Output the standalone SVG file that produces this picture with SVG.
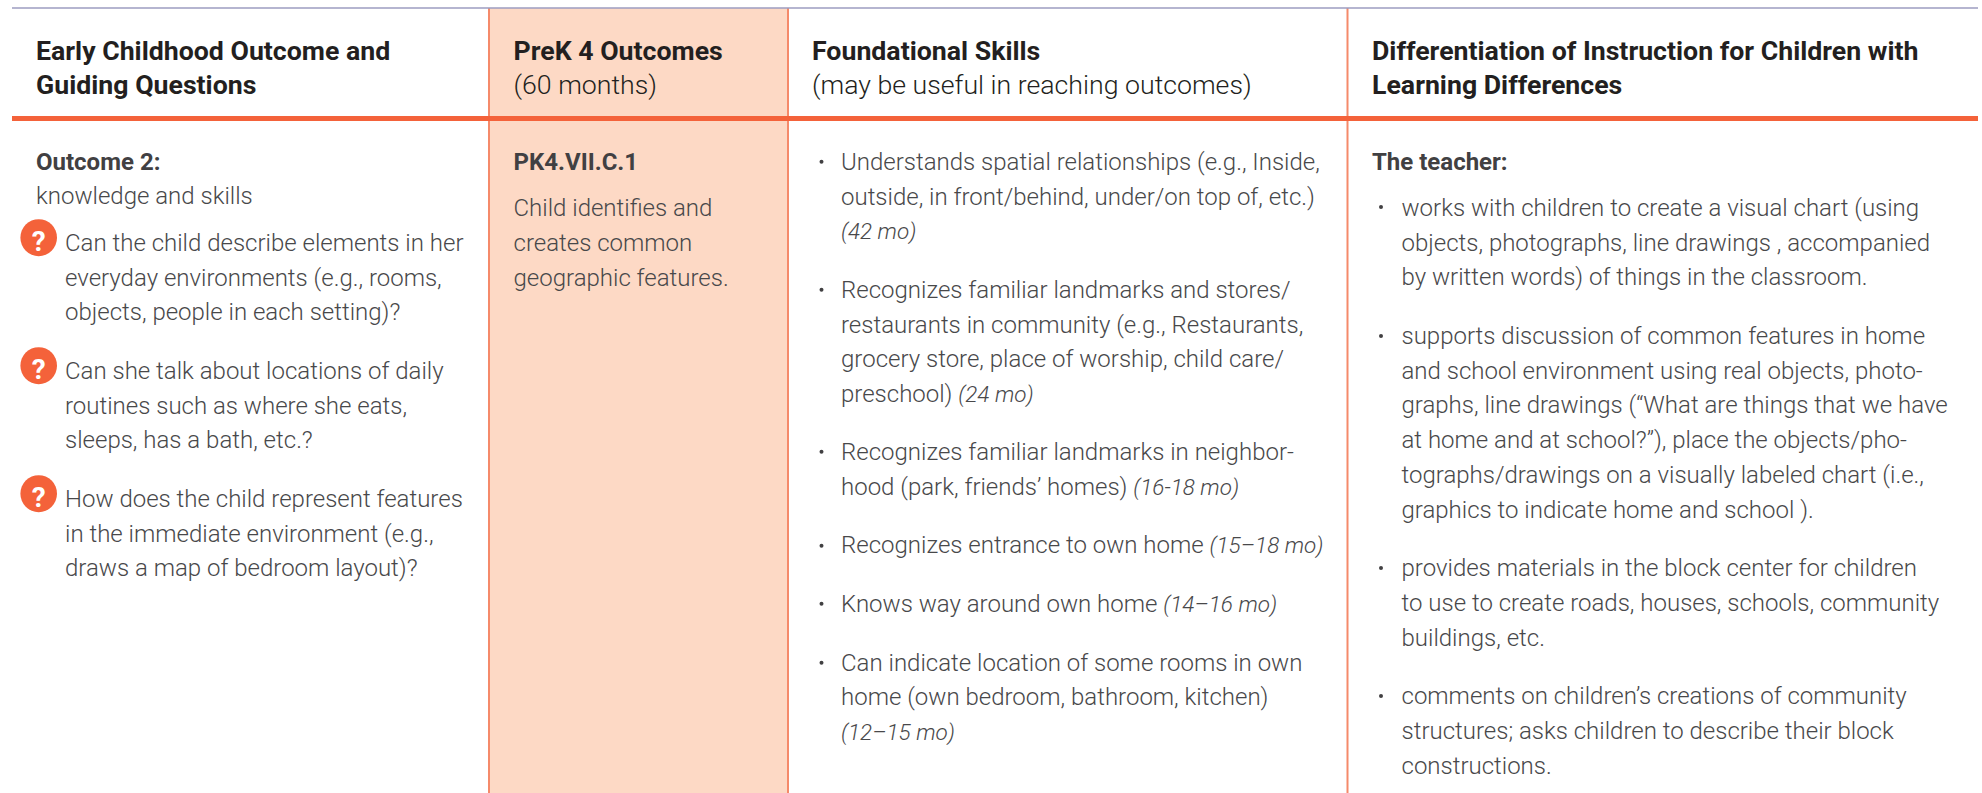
<svg xmlns="http://www.w3.org/2000/svg" width="1982" height="793" viewBox="0 0 1982 793">
<style>
text{font-family:Roboto,"Liberation Sans",sans-serif;font-size:24px;font-weight:300;fill:#48484a}
.h{font-size:26.700px;font-weight:700;fill:#231f20}
.s{font-size:26.700px;font-weight:300;fill:#231f20}
.b{font-size:24px;font-weight:700;fill:#414042}
.i{font-style:italic;font-size:22.500px}
.v{stroke:#f58a6a;stroke-width:2;fill:none}
.q{fill:#f4623a}
.qt{font-size:28px;font-weight:700;fill:#fff;text-anchor:middle}
.d{fill:#414042}
</style>
<rect width="1982" height="793" fill="#fff"/>
<g id="table-lines">
<rect x="489" y="8" width="299" height="785" fill="#fdd9c5"/>
<path class="v" d="M489 8V793M788 8V793M1347.500 8V793"/>
<path d="M12 8H1978" stroke="#9c9cc0" stroke-width="1.500" fill="none"/>
<path d="M12 118.500H1978" stroke="#f4623a" stroke-width="5" fill="none"/>
</g>
<g id="col-outcome">
<text class="h" x="36" y="60">Early Childhood Outcome and</text>
<text class="h" x="36" y="94">Guiding Questions</text>
<text class="b" x="36" y="170">Outcome 2:</text>
<text x="36" y="204">knowledge and skills</text>
<g id="q1"><ellipse class="q" cx="38.700" cy="237.700" rx="18.300" ry="18.500"/><text class="qt" x="38.700" y="250.500">?</text></g>
<text x="65" y="251">Can the child describe elements in her</text>
<text x="65" y="286">everyday environments (e.g., rooms,</text>
<text x="65" y="320">objects, people in each setting)?</text>
<g id="q2"><ellipse class="q" cx="38.700" cy="365.700" rx="18.300" ry="18.500"/><text class="qt" x="38.700" y="378.500">?</text></g>
<text x="65" y="379">Can she talk about locations of daily</text>
<text x="65" y="414">routines such as where she eats,</text>
<text x="65" y="448">sleeps, has a bath, etc.?</text>
<g id="q3"><ellipse class="q" cx="38.700" cy="493.700" rx="18.300" ry="18.500"/><text class="qt" x="38.700" y="506.500">?</text></g>
<text x="65" y="507">How does the child represent features</text>
<text x="65" y="542">in the immediate environment (e.g.,</text>
<text x="65" y="576">draws a map of bedroom layout)?</text>
</g>
<g id="col-prek">
<text class="h" x="513.500" y="60">PreK 4 Outcomes</text>
<text class="s" x="513.500" y="94">(60 months)</text>
<text class="b" x="513.500" y="170">PK4.VII.C.1</text>
<text x="513.500" y="215.500">Child identifies and</text>
<text x="513.500" y="250.500">creates common</text>
<text x="513.500" y="285.500">geographic features.</text>
</g>
<g id="col-foundational">
<text class="h" x="812" y="60">Foundational Skills</text>
<text class="s" x="812" y="94">(may be useful in reaching outcomes)</text>
<circle class="d" cx="821.500" cy="161.700" r="2"/>
<text x="841" y="170">Understands spatial relationships (e.g., Inside,</text>
<text x="841" y="204.500">outside, in front/behind, under/on top of, etc.)</text>
<text class="i" x="841" y="239">(42 mo)</text>
<circle class="d" cx="821.500" cy="289.700" r="2"/>
<text x="841" y="298">Recognizes familiar landmarks and stores/</text>
<text x="841" y="333">restaurants in community (e.g., Restaurants,</text>
<text x="841" y="367">grocery store, place of worship, child care/</text>
<text x="841" y="402">preschool) <tspan class="i">(24 mo)</tspan></text>
<circle class="d" cx="821.500" cy="451.700" r="2"/>
<text x="841" y="460">Recognizes familiar landmarks in neighbor-</text>
<text x="841" y="495">hood (park, friends’ homes) <tspan class="i">(16-18 mo)</tspan></text>
<circle class="d" cx="821.500" cy="545.700" r="2"/>
<text x="841" y="553">Recognizes entrance to own home <tspan class="i">(15–18 mo)</tspan></text>
<circle class="d" cx="821.500" cy="603.700" r="2"/>
<text x="841" y="612">Knows way around own home <tspan class="i">(14–16 mo)</tspan></text>
<circle class="d" cx="821.500" cy="662.700" r="2"/>
<text x="841" y="671">Can indicate location of some rooms in own</text>
<text x="841" y="705">home (own bedroom, bathroom, kitchen)</text>
<text class="i" x="841" y="740">(12–15 mo)</text>
</g>
<g id="col-differentiation">
<text class="h" x="1372" y="60">Differentiation of Instruction for Children with</text>
<text class="h" x="1372" y="94">Learning Differences</text>
<text class="b" x="1372" y="170">The teacher:</text>
<circle class="d" cx="1381" cy="207" r="2"/>
<text x="1401.500" y="215.500">works with children to create a visual chart (using</text>
<text x="1401.500" y="250.500">objects, photographs, line drawings , accompanied</text>
<text x="1401.500" y="285">by written words) of things in the classroom.</text>
<circle class="d" cx="1381" cy="336" r="2"/>
<text x="1401.500" y="344">supports discussion of common features in home</text>
<text x="1401.500" y="379">and school environment using real objects, photo-</text>
<text x="1401.500" y="413">graphs, line drawings (“What are things that we have</text>
<text x="1401.500" y="448">at home and at school?”), place the objects/pho-</text>
<text x="1401.500" y="483">tographs/drawings on a visually labeled chart (i.e.,</text>
<text x="1401.500" y="518">graphics to indicate home and school ).</text>
<circle class="d" cx="1381" cy="568" r="2"/>
<text x="1401.500" y="576">provides materials in the block center for children</text>
<text x="1401.500" y="611">to use to create roads, houses, schools, community</text>
<text x="1401.500" y="646">buildings, etc.</text>
<circle class="d" cx="1381" cy="696" r="2"/>
<text x="1401.500" y="704">comments on children’s creations of community</text>
<text x="1401.500" y="739">structures; asks children to describe their block</text>
<text x="1401.500" y="774">constructions.</text>
</g>
</svg>
